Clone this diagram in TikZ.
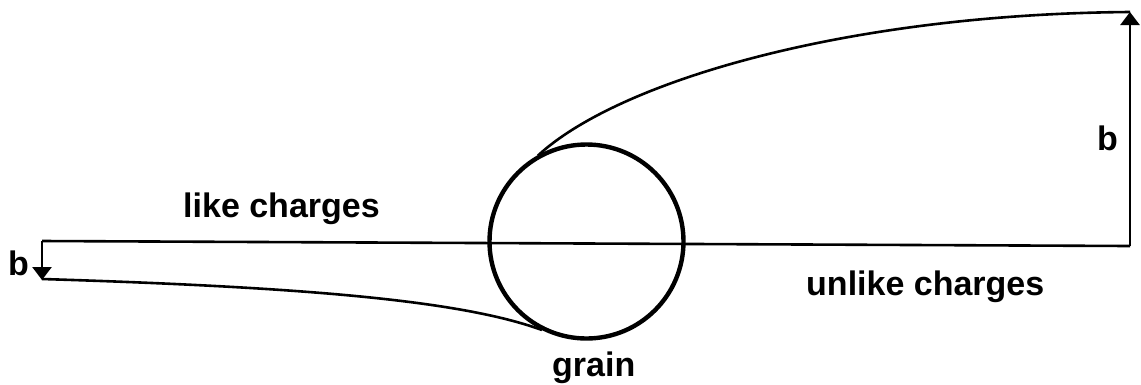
\documentclass[tikz,border=0pt]{standalone}
\usepackage{fontspec}
\setmainfont{Liberation Sans}
\usetikzlibrary{arrows.meta,calc}
\begin{document}
\begin{tikzpicture}[x=1pt,y=-1pt,
  thinline/.style={line width=2.6pt, line join=round},
  tip/.style={-{Triangle[width=19pt,length=13pt]}},
  lbl/.style={font=\fontsize{34}{36}\selectfont\bfseries, inner sep=0pt, anchor=base west},
  grainstyle/.style={circle, draw, line width=4.4pt, minimum size=194pt, inner sep=0pt}]
\useasboundingbox (0,0) rectangle (1141,384);
% grain
\node[grainstyle] (grain) at (586.5,241.5) {};
% reference points
\coordinate (LA) at (42,241);
\coordinate (LB) at (42,280);
\coordinate (RA) at (1130,246);
\coordinate (RB) at (1130,12);
\coordinate (Ttan) at ($(grain.center)+(-48.5,-86)$);
\coordinate (Btan) at ($(grain.center)+(-44.5,88.5)$);
% axis line through grain
\draw[thinline] (LA) -- (RA);
% impact parameter arrows
\draw[thinline, tip] (LA) -- (LB);
\draw[thinline, tip] (RA) -- (RB);
% trajectories
\draw[thinline] (Ttan) .. controls (620,80) and (850,14) .. (RB);
\draw[thinline] (42,279) .. controls (300,287) and (460,300) .. (Btan);
% labels
\node[lbl] (like) at (183,217) {like charges};
\node[lbl] (unlike) at (806,295) {unlike charges};
\node[lbl] (glbl) at (552,376) {grain};
\node[lbl] (bl) at (8,275) {b};
\node[lbl] (br) at (1097,150) {b};
\end{tikzpicture}
\end{document}
